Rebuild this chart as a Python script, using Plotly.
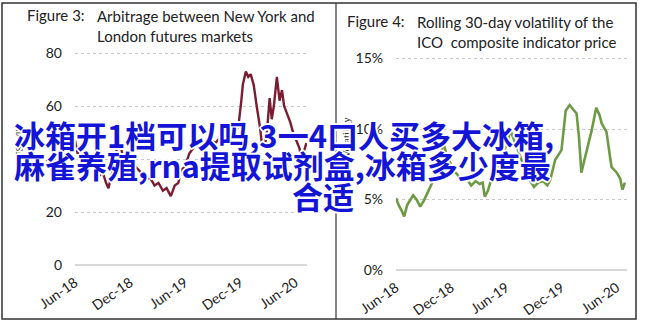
import plotly.graph_objects as go

W, H = 645, 323

# ---- data ----
arb_dates = ["2018-06-01","2018-06-10","2018-06-20","2018-07-01","2018-07-15","2018-08-01","2018-08-15",
             "2018-09-01","2018-09-12","2018-09-20","2018-10-01","2018-10-12","2018-10-25","2018-11-05",
             "2018-11-20","2018-12-05","2018-12-20","2019-01-05","2019-01-20","2019-02-05","2019-02-20",
             "2019-03-05","2019-03-20","2019-04-01","2019-04-15","2019-04-28","2019-05-10","2019-05-20",
             "2019-06-01","2019-06-15","2019-06-28","2019-07-10","2019-07-25","2019-08-10","2019-08-25",
             "2019-09-10","2019-09-25","2019-10-10","2019-10-25","2019-11-10","2019-11-25","2019-12-05",
             "2019-12-10","2019-12-20","2019-12-28","2020-01-05","2020-01-15","2020-01-25","2020-02-05",
             "2020-02-12","2020-02-20","2020-02-28","2020-03-08","2020-03-15","2020-03-22","2020-04-01",
             "2020-04-10","2020-04-18","2020-04-25","2020-05-05","2020-05-15","2020-05-25","2020-06-05",
             "2020-06-15","2020-06-22","2020-07-01","2020-07-08"]
arb_values = [47,42,44,38,36,39,33,35,31,29,34,40,48,42,38,36,37,35,32,33,30,31,28,29,26,30,31,36,
              37,42,44,46,45,46,47,46,48,49,48,50,52,62,68,73,71,72,68,60,52,45,44,50,63,55,60,71,
              62,66,60,57,54,50,47,44,40,43,46]

vol_dates = ["2018-06-01","2018-06-10","2018-06-20","2018-06-28","2018-07-08","2018-07-18","2018-07-28",
             "2018-08-08","2018-08-20","2018-09-01","2018-09-12","2018-09-20","2018-10-01","2018-10-12",
             "2018-10-25","2018-11-05","2018-11-15","2018-11-28","2018-12-05","2018-12-20","2019-01-05",
             "2019-01-20","2019-02-05","2019-02-20","2019-03-05","2019-03-15","2019-03-22","2019-04-01",
             "2019-04-15","2019-05-01","2019-05-15","2019-06-01","2019-06-15","2019-06-28","2019-07-15",
             "2019-08-01","2019-08-12","2019-09-01","2019-09-15","2019-10-01","2019-10-15","2019-10-25",
             "2019-11-10","2019-12-01","2019-12-15","2019-12-28","2020-01-10","2020-01-20","2020-01-28",
             "2020-02-05","2020-02-15","2020-02-25","2020-03-10","2020-03-25","2020-04-05","2020-04-12",
             "2020-04-28","2020-05-10","2020-05-15","2020-06-01","2020-06-12","2020-06-20","2020-06-28"]
vol_values = [5.1,4.6,4.2,3.8,4.6,5.0,5.3,5.0,4.5,4.9,5.4,5.7,6.3,7.0,8.0,9.0,8.2,7.6,7.1,6.8,6.3,
              6.5,6.0,6.3,6.1,6.2,5.2,5.6,6.6,7.2,8.0,8.8,9.9,9.2,8.2,7.2,6.6,5.9,6.2,6.3,6.0,6.4,
              7.8,8.5,11.3,11.7,11.4,11.1,9.4,6.9,7.8,8.6,9.9,11.5,11.0,10.4,9.8,8.0,7.3,6.9,6.5,5.7,6.2]

tick_dates = ["2018-06-01","2018-12-01","2019-06-01","2019-12-01","2020-06-01"]
tick_labels = ["Jun-18","Dec-18","Jun-19","Dec-19","Jun-20"]
arb_ticks = [0, 20, 40, 60, 80]
vol_ticks = [0, 0.05, 0.10, 0.15]
vol_tick_labels = ["0%", "5%", "10%", "15%"]

overlay_lines = ["冰箱开1档可以吗,3一4口人买多大冰箱,", "麻雀养殖,rna提取试剂盒,冰箱多少度最", "合适"]

# ---- figure ----
def px(x):
    return x / W

def py(y):
    return 1 - y / H

fig = go.Figure()
fig.add_trace(go.Scatter(x=arb_dates, y=arb_values, mode="lines",
                         line=dict(color="#7a1d33", width=2.4), xaxis="x", yaxis="y",
                         showlegend=False, hoverinfo="skip"))
fig.add_trace(go.Scatter(x=vol_dates, y=[v / 100 for v in vol_values], mode="lines",
                         line=dict(color="#6f9a45", width=2.6), xaxis="x2", yaxis="y2",
                         showlegend=False, hoverinfo="skip"))

tickfont = dict(family="Lato, Open Sans, sans-serif", size=14, color="#222")
common_x = dict(type="date", tickvals=tick_dates, ticktext=tick_labels, tickangle=-35,
                showgrid=False, showline=False, zeroline=False, ticks="", tickfont=tickfont,
                ticklabelstandoff=6, fixedrange=True, automargin=False)
common_y = dict(showgrid=True, gridcolor="#c9c9c9", griddash="dot", gridwidth=1,
                showline=False, ticks="", tickfont=tickfont, zeroline=True,
                zerolinecolor="#d8d8d8", zerolinewidth=1.5, ticklabelstandoff=12, fixedrange=True,
                automargin=False)

# left: 0 at y=265, 2.65 px per unit
l_top = 265 - 82 * 2.65
r_top = 270 - 0.154 * 1410

fig.update_layout(
    width=W, height=H, margin=dict(l=0, r=0, t=0, b=0, autoexpand=False),
    paper_bgcolor="white", plot_bgcolor="white",
    xaxis=dict(domain=[px(75), px(307)], range=["2018-06-01", "2020-07-10"], anchor="y", **common_x),
    yaxis=dict(domain=[py(265), py(l_top)], range=[0, 82], tickvals=arb_ticks, anchor="x", **common_y),
    xaxis2=dict(domain=[px(396), px(627)], range=["2018-06-01", "2020-07-05"], anchor="y2", **common_x),
    yaxis2=dict(domain=[py(270), py(r_top)], range=[0, 0.154], tickvals=vol_ticks,
                ticktext=vol_tick_labels, anchor="x2", **common_y),
)

shapes = [
    dict(type="rect", xref="paper", yref="paper", x0=px(2), y0=py(319), x1=px(636), y1=py(3),
         line=dict(color="#333", width=1.5)),
    dict(type="line", xref="paper", yref="paper", x0=px(336), y0=py(319), x1=px(336), y1=py(3),
         line=dict(color="#333", width=1.2)),
]
fig.update_layout(shapes=shapes)

tfont = dict(family="Lato, Open Sans, sans-serif", size=15, color="#222")
ann = [
    dict(text="Figure 3:", x=px(25), y=py(15), xanchor="left", yanchor="middle", font=tfont),
    dict(text="Arbitrage between New York and<br>London futures markets", x=px(95), y=py(26),
         xanchor="left", yanchor="middle", align="left", font=tfont),
    dict(text="Figure 4:", x=px(345), y=py(21), xanchor="left", yanchor="middle", font=tfont),
    dict(text="Rolling 30-day volatility of the<br>ICO  composite indicator price", x=px(415), y=py(32),
         xanchor="left", yanchor="middle", align="left", font=tfont),
    dict(text="US c/lb", x=px(20), y=py(142), textangle=-90, xanchor="center", yanchor="middle",
         font=dict(family="DejaVu Serif, serif", size=9, color="#333")),
    dict(text="Volatility", x=px(346), y=py(138), textangle=-90, xanchor="center", yanchor="middle",
         font=dict(family="Liberation Serif, serif", size=11, color="#333")),
]
ofont = dict(family="Noto Sans CJK SC", size=31, color="#1414d6", weight="bold",
             shadow="1px 1px 0 #fff, -1px -1px 0 #fff, 1px -1px 0 #fff, -1px 1px 0 #fff, 2px 0 0 #fff, -2px 0 0 #fff, 0 2px 0 #fff, 0 -2px 0 #fff")
ann += [
    dict(text=overlay_lines[0], x=px(12), y=py(135), xanchor="left", yanchor="middle", font=ofont),
    dict(text=overlay_lines[1], x=px(12), y=py(164), xanchor="left", yanchor="middle", font=ofont),
    dict(text=overlay_lines[2], x=px(323), y=py(195), xanchor="center", yanchor="middle", font=ofont),
]
for a in ann:
    a.setdefault("xref", "paper")
    a.setdefault("yref", "paper")
    a.setdefault("showarrow", False)
fig.update_layout(annotations=ann)

fig.write_html("out.html")
